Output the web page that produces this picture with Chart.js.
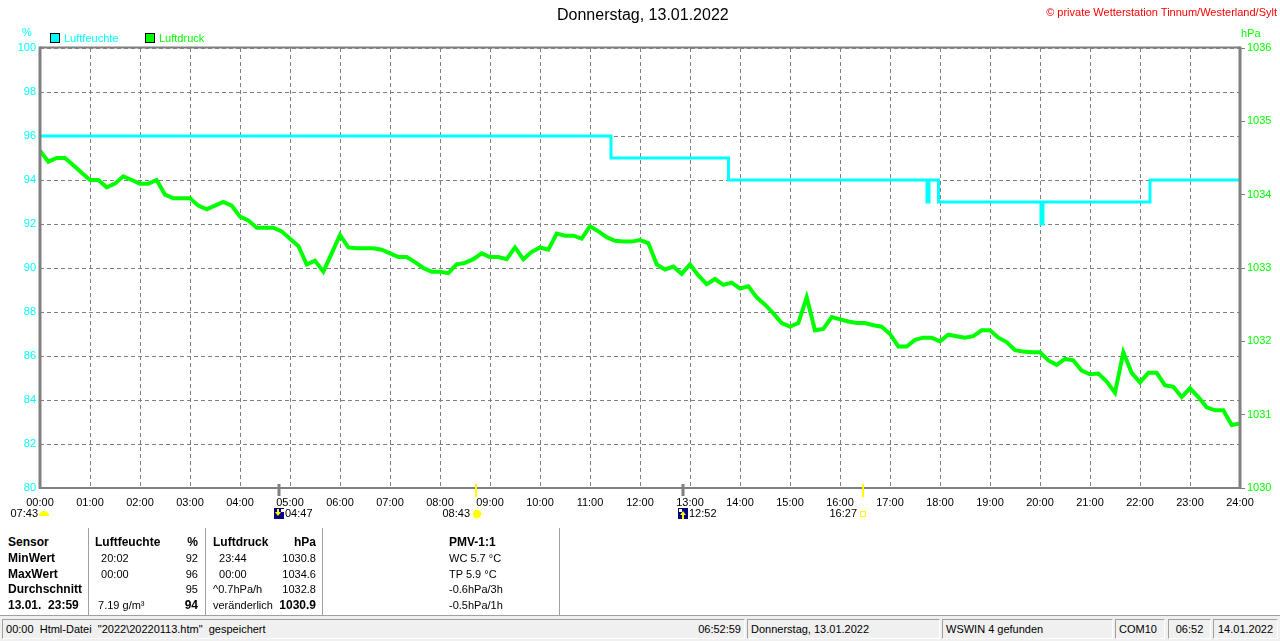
<!DOCTYPE html>
<html>
<head>
<meta charset="utf-8">
<title>Donnerstag, 13.01.2022</title>
<script src="https://cdn.jsdelivr.net/npm/chart.js@4.4.0/dist/chart.umd.min.js"></script>
<style>
body { margin:0; width:1280px; height:641px; overflow:hidden; background:#fff; position:relative;
       font-family:'Liberation Sans', Arial, sans-serif; font-size:11px; color:#000; }
.t { position:absolute; white-space:pre; line-height:14px; }
.b { font-weight:bold; font-size:12px; }
#wrap { position:absolute; left:0; top:0; width:1280px; height:530px; }
.sep { position:absolute; top:528px; width:1px; height:88px; background:#a0a0a0; }
#statusBar { position:absolute; left:0; top:615px; width:1280px; height:26px; background:#f0f0f0; border-top:1px solid #a0a0a0; }
.panel { position:absolute; top:3px; height:20px; border-top:1px solid #a0a0a0; border-left:1px solid #a0a0a0;
         border-bottom:1px solid #fff; border-right:1px solid #fff; line-height:18px; white-space:pre; box-sizing:border-box; }
.sq { position:absolute; width:10px; height:10px; border:1px solid #000; box-sizing:border-box; }
</style>
</head>
<body>
<div id="wrap"><canvas id="myChart"></canvas></div>
<div id="overlay"></div>
<div id="statusBar"></div>
<script>
// humidity: value changes at these times (hours)
var humTimes = [0, 11.42, 13.77, 17.74, 17.78, 17.97, 20.02, 20.06, 22.2, 24];
var humValues = [96, 95, 94, 93, 94, 93, 92, 93, 94, 94];

// pressure every 10 minutes, 00:00 .. 24:00
var pressureStep = 10;
var pressureValues = [
    1034.60, 1034.45, 1034.50, 1034.50, 1034.40, 1034.30, 1034.20, 1034.20, 1034.10, 1034.15,
    1034.25, 1034.20, 1034.15, 1034.15, 1034.20, 1034.00, 1033.95, 1033.95, 1033.95, 1033.85,
    1033.80, 1033.85, 1033.90, 1033.85, 1033.70, 1033.65, 1033.55, 1033.55, 1033.55, 1033.50,
    1033.40, 1033.30, 1033.05, 1033.10, 1032.95, 1033.20, 1033.45, 1033.28, 1033.27, 1033.27,
    1033.27, 1033.25, 1033.20, 1033.15, 1033.15, 1033.08, 1033.00, 1032.95, 1032.95, 1032.93,
    1033.05, 1033.07, 1033.12, 1033.20, 1033.15, 1033.15, 1033.12, 1033.28, 1033.12, 1033.22,
    1033.28, 1033.25, 1033.47, 1033.44, 1033.44, 1033.40, 1033.57, 1033.50, 1033.42, 1033.37,
    1033.36, 1033.36, 1033.38, 1033.34, 1033.05, 1032.98, 1033.02, 1032.92, 1033.05, 1032.90,
    1032.78, 1032.85, 1032.77, 1032.80, 1032.72, 1032.75, 1032.60, 1032.50, 1032.38, 1032.25,
    1032.20, 1032.25, 1032.60, 1032.15, 1032.17, 1032.33, 1032.30, 1032.27, 1032.25, 1032.25,
    1032.22, 1032.20, 1032.10, 1031.93, 1031.93, 1032.02, 1032.05, 1032.05, 1032.00, 1032.09,
    1032.07, 1032.05, 1032.07, 1032.15, 1032.15, 1032.05, 1031.99, 1031.88, 1031.86, 1031.85,
    1031.85, 1031.74, 1031.68, 1031.76, 1031.74, 1031.60, 1031.55, 1031.56, 1031.45, 1031.30,
    1031.85, 1031.57, 1031.44, 1031.57, 1031.57, 1031.40, 1031.38, 1031.24, 1031.36, 1031.24,
    1031.10, 1031.06, 1031.06, 1030.86, 1030.88
];

var humTicks = [80, 100, 2];
var presTicks = [1030, 1036, 1];

// sun / moon events below the time axis
var eventLabels = ['07:43', '04:47', '08:43', '12:52', '16:27'];
var eventKinds = ['dawn', 'moonset', 'sunrise', 'moonrise', 'sunset'];

// table below the chart
var rowLabels = ['Sensor', 'MinWert', 'MaxWert', 'Durchschnitt', '13.01.  23:59'];
var humTimeCol = ['Luftfeuchte', '  20:02', '  00:00', '', ' 7.19 g/m³'];
var humValCol = ['%', '92', '96', '95', '94'];
var presTimeCol = ['Luftdruck', '  23:44', '  00:00', '^0.7hPa/h', 'veränderlich'];
var presValCol = ['hPa', '1030.8', '1034.6', '1032.8', '1030.9'];
var pmvCol = ['PMV-1:1', 'WC 5.7 °C', 'TP 5.9 °C', '-0.6hPa/3h', '-0.5hPa/1h'];

var statusTexts = ['00:00  Html-Datei  "2022\\20220113.htm"  gespeichert', '06:52:59',
    'Donnerstag, 13.01.2022', 'WSWIN 4 gefunden', 'COM10', '06:52', '14.01.2022'];

var CYAN = '#00ffff', GREEN = '#00ff00', GRAY = '#808080';
var FONT = "'Liberation Sans', Arial, sans-serif";

function hm(s) {
    var p = s.split(':');
    return parseInt(p[0], 10) + parseInt(p[1], 10) / 60;
}

var humPoints = humTimes.map(function (t, i) { return {x: t, y: humValues[i]}; });
var presPoints = pressureValues.map(function (v, i) { return {x: i * pressureStep / 60, y: v}; });

function drawSun(ctx, x, y) {
    ctx.save();
    ctx.strokeStyle = '#ffff99';
    ctx.lineWidth = 1;
    for (var a = 0; a < 8; a++) {
        var ang = a * Math.PI / 4;
        ctx.beginPath();
        ctx.moveTo(x + Math.cos(ang) * 4, y + Math.sin(ang) * 4);
        ctx.lineTo(x + Math.cos(ang) * 7, y + Math.sin(ang) * 7);
        ctx.stroke();
    }
    ctx.fillStyle = '#ffff00';
    ctx.beginPath();
    ctx.arc(x, y, 4, 0, Math.PI * 2);
    ctx.fill();
    ctx.restore();
}

function drawMoon(ctx, x, y, up) {
    ctx.save();
    ctx.fillStyle = '#000080';
    ctx.fillRect(x - 5, y - 6, 10, 11);
    ctx.fillStyle = '#ffffff';
    ctx.fillRect(x + (up ? -4 : 2), y - 5, 3, 3);
    ctx.fillStyle = '#ffff00';
    ctx.beginPath();
    if (up) {
        ctx.moveTo(x, y - 3); ctx.lineTo(x - 3, y + 1); ctx.lineTo(x + 3, y + 1);
    } else {
        ctx.moveTo(x - 1, y + 2); ctx.lineTo(x - 4, y - 2); ctx.lineTo(x + 2, y - 2);
    }
    ctx.fill();
    ctx.fillRect(up ? x - 1 : x - 2, up ? y : y - 5, 2, 5);
    ctx.restore();
}

var extras = {
    id: 'extras',
    afterDatasetsDraw: function (chart) {
        var ctx = chart.ctx, a = chart.chartArea;
        ctx.save();
        ctx.strokeStyle = GRAY;
        ctx.lineWidth = 2;
        ctx.beginPath();
        ctx.moveTo(a.left, a.top - 0.5); ctx.lineTo(a.right, a.top - 0.5);
        ctx.moveTo(a.left, a.bottom); ctx.lineTo(a.right, a.bottom);
        ctx.stroke();
        ctx.lineWidth = 3;
        ctx.beginPath();
        ctx.moveTo(a.left, a.top - 1.5); ctx.lineTo(a.left, a.bottom + 1);
        ctx.moveTo(a.right, a.top - 1.5); ctx.lineTo(a.right, a.bottom + 1);
        ctx.stroke();
        ctx.restore();
    },
    afterDraw: function (chart) {
        var ctx = chart.ctx, xs = chart.scales.x, a = chart.chartArea;
        var ty = a.bottom + 26;
        ctx.save();
        ctx.font = '11px ' + FONT;
        ctx.textBaseline = 'middle';
        ctx.fillStyle = '#000';
        eventLabels.forEach(function (lab, i) {
            var kind = eventKinds[i];
            if (kind === 'dawn') {
                var x0 = xs.getPixelForValue(0);
                ctx.textAlign = 'right';
                ctx.fillStyle = '#000';
                ctx.fillText(lab, x0 - 2, ty);
                ctx.fillStyle = '#ffff00';
                ctx.beginPath();
                ctx.arc(x0 + 4, ty + 2, 5, Math.PI, 0);
                ctx.fill();
                return;
            }
            var x = Math.round(xs.getPixelForValue(hm(lab)));
            var isSun = kind === 'sunrise' || kind === 'sunset';
            ctx.fillStyle = isSun ? '#ffff00' : GRAY;
            ctx.fillRect(x - (isSun ? 1 : 1.5), a.bottom - 4, isSun ? 2 : 3, isSun ? 13 : 12);
            ctx.fillStyle = '#000';
            if (isSun) {
                ctx.textAlign = 'right';
                ctx.fillText(lab, x - 6, ty);
                if (kind === 'sunrise') {
                    drawSun(ctx, x + 1, ty);
                } else {
                    ctx.strokeStyle = '#ffff00';
                    ctx.lineWidth = 1;
                    ctx.strokeRect(x - 2.5, ty - 2.5, 5, 5);
                }
            } else {
                drawMoon(ctx, x, ty, kind === 'moonrise');
                ctx.textAlign = 'left';
                ctx.fillStyle = '#000';
                ctx.fillText(lab, x + 6, ty);
            }
        });
        ctx.restore();
    }
};

Chart.defaults.font.family = FONT;
Chart.defaults.font.size = 11;

new Chart('myChart', {
    type: 'line',
    data: {
        datasets: [{
            label: 'Luftfeuchte',
            data: humPoints,
            yAxisID: 'y',
            borderColor: CYAN,
            backgroundColor: CYAN,
            borderWidth: 3,
            stepped: true,
            pointRadius: 0,
            fill: false
        }, {
            label: 'Luftdruck',
            data: presPoints,
            yAxisID: 'y1',
            borderColor: GREEN,
            backgroundColor: GREEN,
            borderWidth: 4,
            tension: 0,
            pointRadius: 0,
            fill: false
        }]
    },
    options: {
        responsive: true,
        maintainAspectRatio: false,
        animation: false,
        events: [],
        layout: { padding: { top: 48, left: 0, right: 0, bottom: 0 } },
        plugins: { legend: { display: false }, title: { display: false }, tooltip: { enabled: false } },
        scales: {
            x: {
                type: 'linear', min: 0, max: 24,
                afterFit: function (s) { s.height = 42; },
                ticks: {
                    stepSize: 1, autoSkip: false, maxRotation: 0, padding: 8, color: '#000',
                    callback: function (v) { return (v < 10 ? '0' : '') + v + ':00'; }
                },
                grid: { color: GRAY, lineWidth: 1, drawTicks: false },
                border: { display: false, dash: [4, 3] }
            },
            y: {
                position: 'left', min: humTicks[0], max: humTicks[1],
                afterFit: function (s) { s.width = 40; },
                ticks: { stepSize: humTicks[2], color: CYAN, padding: 4,
                         callback: function (v) { return String(v); } },
                grid: { color: GRAY, lineWidth: 1, drawTicks: false },
                border: { display: false, dash: [4, 3] }
            },
            y1: {
                position: 'right', min: presTicks[0], max: presTicks[1],
                afterFit: function (s) { s.width = 40; },
                ticks: { stepSize: presTicks[2], color: GREEN, padding: 2,
                         callback: function (v) { return String(v); } },
                grid: { drawOnChartArea: false, drawTicks: true, tickLength: 5, tickColor: GRAY },
                border: { display: false }
            }
        }
    },
    plugins: [extras]
});

// texts around the chart
var overlay = document.getElementById('overlay');
function put(text, x, y, opts) {
    opts = opts || {};
    var d = document.createElement('div');
    d.className = 't' + (opts.bold ? ' b' : '');
    d.textContent = text;
    d.style.top = (y - 7) + 'px';
    if (opts.right) { d.style.right = (1280 - x) + 'px'; } else { d.style.left = x + 'px'; }
    if (opts.color) d.style.color = opts.color;
    if (opts.size) d.style.fontSize = opts.size + 'px';
    overlay.appendChild(d);
    return d;
}

put('Donnerstag, 13.01.2022', 557, 15, {size: 16});
put('© private Wetterstation Tinnum/Westerland/Sylt', 1277, 12, {right: true, color: '#ff0000'});
put('%', 22, 32, {color: CYAN});
put('hPa', 1241, 33, {color: GREEN});

var legendItems = [['Luftfeuchte', CYAN, 50], ['Luftdruck', GREEN, 145]];
legendItems.forEach(function (it) {
    var s = document.createElement('div');
    s.className = 'sq';
    s.style.left = it[2] + 'px';
    s.style.top = '33px';
    s.style.background = it[1];
    overlay.appendChild(s);
    put(it[0], it[2] + 14, 38, {color: it[1]});
});

// stats table
var rowY = [542, 558, 573.5, 589, 605];
rowY.forEach(function (y, r) {
    var head = r === 0, last = r === rowY.length - 1;
    put(rowLabels[r], 8, y, {bold: true});
    if (humTimeCol[r]) put(humTimeCol[r], 95, y, {bold: head});
    put(humValCol[r], 198, y, {right: true, bold: head || last});
    put(presTimeCol[r], 213, y, {bold: head});
    put(presValCol[r], 316, y, {right: true, bold: head || last});
    put(pmvCol[r], 449, y, {bold: head});
});
[88, 205, 322, 559].forEach(function (x) {
    var s = document.createElement('div');
    s.className = 'sep';
    s.style.left = x + 'px';
    overlay.appendChild(s);
});

// status bar
var statusBar = document.getElementById('statusBar');
var panels = [[2, 745], [747, 940], [942, 1113], [1115, 1165], [1168, 1211], [1213, 1278]];
panels.forEach(function (p, i) {
    var d = document.createElement('div');
    d.className = 'panel';
    d.style.left = p[0] + 'px';
    d.style.width = (p[1] - p[0]) + 'px';
    if (i === 0) {
        d.textContent = ' ' + statusTexts[0];
        var r = document.createElement('span');
        r.textContent = statusTexts[1];
        r.style.position = 'absolute';
        r.style.right = '3px';
        d.appendChild(r);
    } else {
        d.textContent = statusTexts[i + 1];
        d.style.paddingLeft = '3px';
        if (i >= 4) { d.style.textAlign = 'center'; d.style.paddingLeft = '0'; }
    }
    statusBar.appendChild(d);
});
</script>
</body>
</html>
